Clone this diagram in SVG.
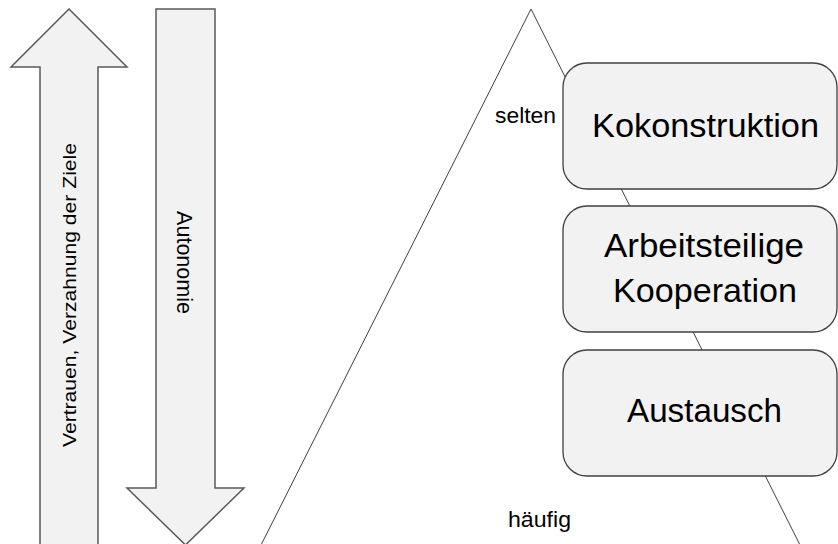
<svg xmlns="http://www.w3.org/2000/svg" width="838" height="544" viewBox="0 0 838 544">
<style>
.arrow{fill:#f2f2f2;stroke:#5a5a5a;stroke-width:1.5;stroke-linejoin:miter}
.box{fill:#f2f2f2;stroke:#404040;stroke-width:1.3}
.tri{fill:none;stroke:#404040;stroke-width:1}
.t{font-family:"Liberation Sans",Arial,sans-serif;fill:#000}
.big{font-size:34px;text-anchor:middle}
.small{font-size:22px}
</style>
<rect width="838" height="544" fill="#fff"/>
<g id="connectors">
<polyline class="tri" points="261,545 531,9 800,545"/>
</g>
<g id="arrow-vertrauen">
<polygon class="arrow" points="69,9 127,67 98,67 98,560 40,560 40,67 11,67"/>
<text class="t" font-size="18" text-anchor="middle" transform="translate(76,295) rotate(-90)" textLength="304" lengthAdjust="spacingAndGlyphs">Vertrauen, Verzahnung der Ziele</text>
</g>
<g id="arrow-autonomie">
<polygon class="arrow" points="156,9 215,9 215,488 244,488 185.5,545 127,488 156,488"/>
<text class="t" font-size="21.5" text-anchor="middle" transform="translate(177,262.5) rotate(90)">Autonomie</text>
</g>
<g id="label-selten">
<text class="t small" x="495" y="123" textLength="61" lengthAdjust="spacingAndGlyphs">selten</text>
</g>
<g id="label-haeufig">
<text class="t small" x="508" y="527" textLength="63" lengthAdjust="spacingAndGlyphs">häufig</text>
</g>
<g id="node-kokonstruktion">
<rect class="box" x="563" y="63" width="274" height="126" rx="24" ry="24"/>
<text class="t big" x="705.5" y="137" textLength="227" lengthAdjust="spacingAndGlyphs">Kokonstruktion</text>
</g>
<g id="node-arbeitsteilige">
<rect class="box" x="563" y="206" width="274" height="126" rx="24" ry="24"/>
<text class="t big" x="704" y="257" textLength="200" lengthAdjust="spacingAndGlyphs">Arbeitsteilige</text>
<text class="t big" x="705" y="302" textLength="184" lengthAdjust="spacingAndGlyphs">Kooperation</text>
</g>
<g id="node-austausch">
<rect class="box" x="563" y="350" width="274" height="126" rx="24" ry="24"/>
<text class="t big" x="704.5" y="422" textLength="155" lengthAdjust="spacingAndGlyphs">Austausch</text>
</g>
</svg>
